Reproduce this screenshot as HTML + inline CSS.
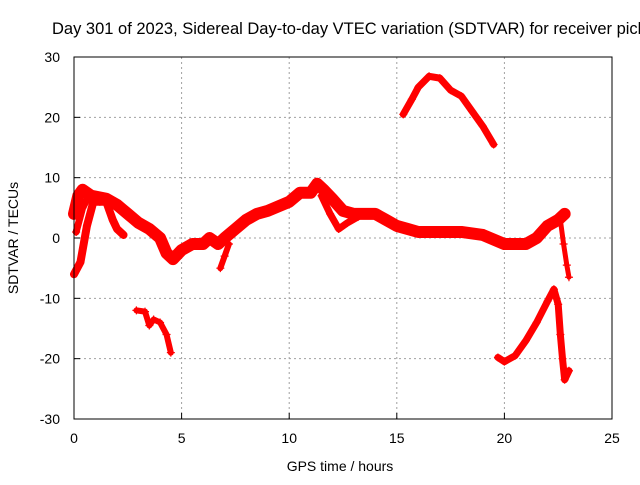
<!DOCTYPE html>
<html><head><meta charset="utf-8"><style>
body{margin:0;background:#fff}
svg text{font-family:"Liberation Sans",sans-serif;font-size:14px;fill:#000}
</style></head><body>
<svg id="chart" width="640" height="480">
<rect width="640" height="480" fill="#fff"/>
<g id="grid"></g><g id="marks"></g><g id="axes"></g>
<text x="52" y="34" style="font-size:16.5px">Day 301 of 2023, Sidereal Day-to-day VTEC variation (SDTVAR) for receiver picl</text>
<text x="340" y="471" text-anchor="middle">GPS time / hours</text>
<text transform="translate(18,238) rotate(-90)" text-anchor="middle">SDTVAR / TECUs</text>
</svg>
<script>
const xTicks=[0,5,10,15,20,25];
const yTicks=[-30,-20,-10,0,10,20,30];
const mainX=[0,0.2,0.4,0.8,1.5,2,2.5,3,3.5,4,4.3,4.6,5,5.5,6,6.3,6.7,7,7.5,8,8.5,9,10,10.5,11,11.3,11.6,12,12.5,13,14,14.5,15,15.5,16,17,18,19,20,21,21.5,22,22.5,22.8];
const mainY=[4,7,8,7,6.5,5.5,4,2.5,1.5,0,-2.5,-3.5,-2,-1,-1,0,-1,0,1.5,3,4,4.5,6,7.5,7.5,9,8,6.5,4.5,4,4,3,2,1.5,1,1,1,0.5,-1,-1,0,2,3,4];
const branchAX=[0,0.3,0.6,0.9,1.2,1.5,1.8,2,2.3];
const branchAY=[-6,-4,2,6,6,6,3,1.5,0.5];
const branchBX=[0.1,0.4,0.7,1.0];
const branchBY=[1,5,7,6.5];
const branchCX=[11.5,11.9,12.3,12.7,13.2];
const branchCY=[7,4,1.5,2.5,3.5];
const branchDX=[6.8,7.0,7.2];
const branchDY=[-5,-3,-1];
const arcX=[15.3,15.7,16,16.5,17,17.5,18,18.5,19,19.5];
const arcY=[20.5,23,25,26.8,26.5,24.5,23.5,21,18.5,15.5];
const lowLX=[2.9,3.3,3.5,3.7,4,4.3,4.5];
const lowLY=[-12,-12.2,-14.5,-13.5,-14,-16,-19];
const lowRX=[19.7,20,20.5,21,21.5,22,22.3,22.5,22.6,22.7,22.8,23];
const lowRY=[-19.8,-20.5,-19.5,-17,-14,-10.5,-8.5,-11,-16,-20,-23.5,-22];
const dropX=[22.6,22.75,22.9,23];
const dropY=[3,-1,-4.5,-6.5];
const NS='http://www.w3.org/2000/svg';
const sx=h=>74+h*(538/25);
const sy=v=>238-v*(362/60);
const grid=document.getElementById('grid'),axes=document.getElementById('axes'),marks=document.getElementById('marks');
function mk(tag,attrs,parent){const e=document.createElementNS(NS,tag);for(const k in attrs)e.setAttribute(k,attrs[k]);parent.appendChild(e);return e;}
xTicks.forEach(t=>{
 if(t>0&&t<25){const l=mk('line',{x1:sx(t),x2:sx(t),y1:57,y2:419,stroke:'#a0a0a0','stroke-dasharray':'2,3'},grid);
 
 }
 const tk=mk('line',{x1:sx(t),x2:sx(t),y1:419,y2:413,stroke:'#000'},axes);
 
 
 const tx=mk('text',{x:sx(t),y:443,'text-anchor':'middle'},axes);tx.textContent=t;
 
 
});
yTicks.forEach(t=>{
 if(t>-30&&t<30){const l=mk('line',{x1:74,x2:612,y1:sy(t),y2:sy(t),stroke:'#a0a0a0','stroke-dasharray':'2,3'},grid);
 
 }
 const tk=mk('line',{x1:74,x2:80,y1:sy(t),y2:sy(t),stroke:'#000'},axes);
 
 
 const tx=mk('text',{x:60,y:sy(t)+5,'text-anchor':'end'},axes);tx.textContent=t;
 
 
});
const fr=mk('rect',{x:74,y:57,width:538,height:362,fill:'none',stroke:'#000'},axes);


function series(xs,ys,w,name){
 const pts=xs.map((x,i)=>sx(x)+','+sy(ys[i])).join(' ');
 const p=mk('polyline',{points:pts,fill:'none',stroke:'#f00','stroke-width':w,'stroke-linejoin':'round','stroke-linecap':'round'},marks);
 
 
 xs.forEach((x,i)=>{
  const m=mk('path',{d:`M${sx(x)-4},${sy(ys[i])}h8M${sx(x)},${sy(ys[i])-4}v8`,stroke:'#f00','stroke-width':1.2},marks);
  
  
 });
}
series(mainX,mainY,12,'main-band');
series(branchAX,branchAY,8,'branch-a');
series(branchBX,branchBY,7,'branch-b');
series(branchCX,branchCY,7,'branch-c');
series(branchDX,branchDY,6,'branch-d');
series(arcX,arcY,7,'upper-arc');
series(lowLX,lowLY,6,'lower-left');
series(lowRX,lowRY,7,'lower-right');
series(dropX,dropY,5,'right-drop');
</script>
</body></html>
